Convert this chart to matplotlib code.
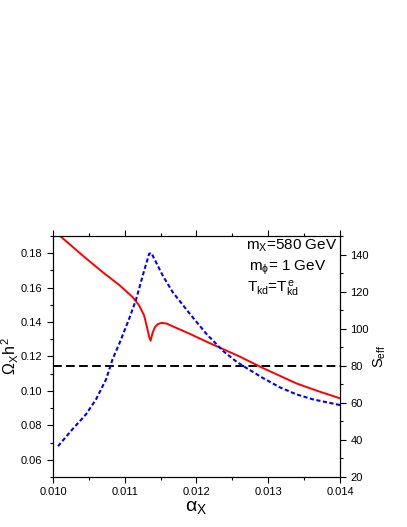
import matplotlib
matplotlib.use('Agg')
import matplotlib.pyplot as plt
from matplotlib.ticker import MultipleLocator

plt.rcParams['font.family'] = ['Liberation Sans', 'DejaVu Sans']
plt.rcParams['mathtext.fontset'] = 'custom'
plt.rcParams['mathtext.rm'] = 'Liberation Sans'
plt.rcParams['mathtext.it'] = 'Liberation Sans'
plt.rcParams['mathtext.sf'] = 'Liberation Sans'

# relic density (left axis)
alpha_red = [0.0100, 0.01011, 0.01046, 0.01069, 0.01093, 0.01111, 0.01120, 0.01127,
             0.01131, 0.01134, 0.01136, 0.01139, 0.01142, 0.01146, 0.01151, 0.01158,
             0.01167, 0.01191, 0.01214, 0.01237, 0.0126, 0.01293, 0.01339, 0.0137, 0.0140]
omega_h2 = [0.1925, 0.1896, 0.1770, 0.1691, 0.1613, 0.1545, 0.1497, 0.1438,
            0.1370, 0.1315, 0.1292, 0.1340, 0.1370, 0.1388, 0.1395, 0.1392,
            0.1375, 0.1331, 0.1286, 0.1243, 0.1200, 0.1132, 0.1044, 0.0998, 0.0957]

# S_eff (right axis)
alpha_blue = [0.01007, 0.01027, 0.01046, 0.0106, 0.01074, 0.01083, 0.01093, 0.01106,
              0.01116, 0.01125, 0.01134, 0.01137, 0.01153, 0.01167, 0.01191, 0.01214,
              0.01237, 0.01256, 0.0127, 0.01293, 0.01316, 0.01339, 0.01362, 0.0140]
s_eff = [36.6, 45.7, 53.8, 61.9, 72.7, 83.5, 92.5, 105.2,
         116.0, 128.6, 140.4, 140.9, 128.6, 119.6, 107.9, 97.1,
         88.0, 82.1, 78.7, 73.3, 68.4, 64.6, 61.9, 58.8]

omega_obs = 0.1142

fig = plt.figure(figsize=(4.07, 5.27), dpi=100)
ax = fig.add_axes([0.1302, 0.0949, 0.7052, 0.4573])
ax2 = ax.twinx()

ax.plot(alpha_red, omega_h2, color='#ff0000', lw=1.4, zorder=3)
ax.axhline(omega_obs, color='black', lw=1.4, dashes=(4.5, 2.2))
ax2.plot(alpha_blue, s_eff, color='#0000ff', lw=1.5, dashes=(2.0, 1.2))

ax.set_xlim(0.010, 0.014)
ax.set_ylim(0.05, 0.19)
ax2.set_ylim(20, 150)

ax.xaxis.set_major_locator(MultipleLocator(0.001))
ax.xaxis.set_minor_locator(MultipleLocator(0.0005))
ax.yaxis.set_major_locator(MultipleLocator(0.02))
ax.yaxis.set_minor_locator(MultipleLocator(0.01))
ax2.yaxis.set_major_locator(MultipleLocator(20))
ax2.yaxis.set_minor_locator(MultipleLocator(10))
ax.xaxis.set_major_formatter(plt.FormatStrFormatter('%.3f'))
ax.yaxis.set_major_formatter(plt.FormatStrFormatter('%.2f'))

ax.tick_params(which='both', direction='out', top=True, labelsize=8, width=0.8)
ax.tick_params(which='major', length=4)
ax.tick_params(which='minor', length=2.5)
ax2.tick_params(which='both', direction='out', labelsize=8, width=0.8)
ax2.tick_params(which='major', length=4)
ax2.tick_params(which='minor', length=2.5)

for a in (ax, ax2):
    for s in a.spines.values():
        s.set_linewidth(0.8)

ax.set_xlabel(r'$\alpha_{X}$', fontsize=14, labelpad=1)
ax.set_ylabel(r'$\Omega_{X}h^{2}$', fontsize=11.5)
ax.yaxis.set_label_coords(-0.11, 0.5)
ax2.set_ylabel(r'$S_{eff}$', fontsize=10.5, labelpad=2)

ax.text(0.673, 0.942, r'$m_{X}$=580 GeV', transform=ax.transAxes,
        ha='left', va='baseline', fontsize=11)
ax.text(0.683, 0.858, r'$m_{\phi}$= 1 GeV', transform=ax.transAxes,
        ha='left', va='baseline', fontsize=11)
ax.text(0.676, 0.764, r'$T_{kd}$=$T^{e}_{kd}$', transform=ax.transAxes,
        ha='left', va='baseline', fontsize=11)

fig.savefig('out.png', dpi=100)
